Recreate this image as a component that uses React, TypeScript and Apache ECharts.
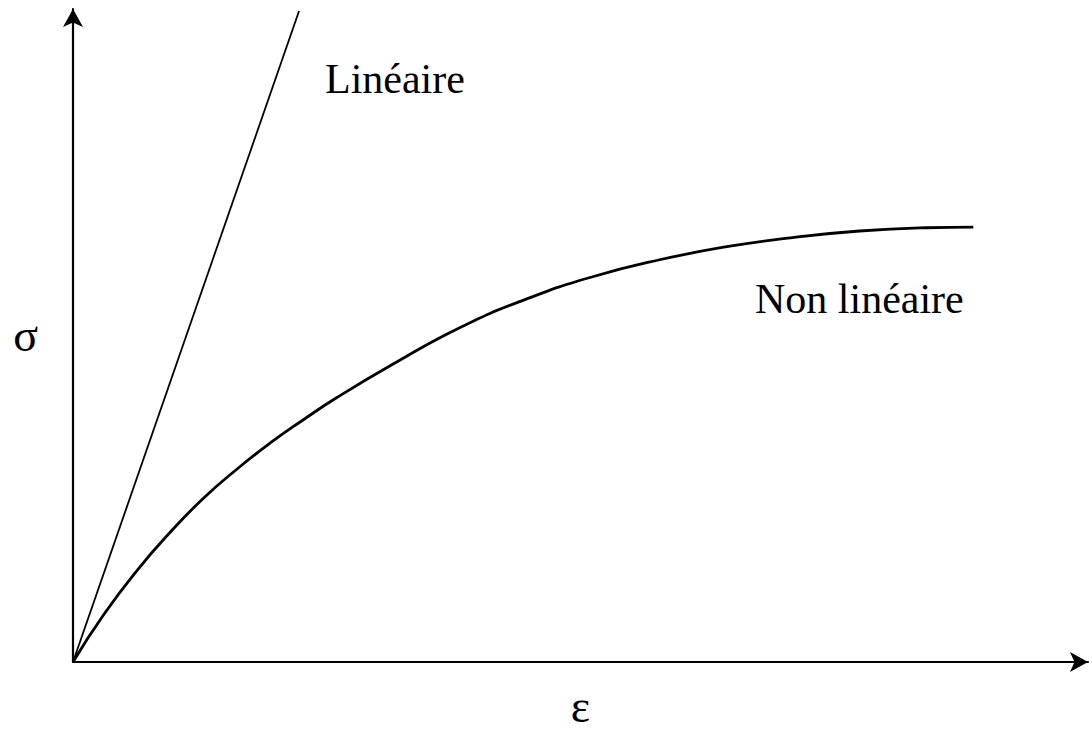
import React, { useEffect, useRef } from "react";
import * as echarts from "echarts";

// Strain (ε) and stress (σ) values, arbitrary units
const linearStrain = [0, 22.27];
const linearStress = [0, 99.7];

const nonLinearStrain = [
  0, 3, 6.3, 9.6, 12.8, 16.2, 19.4, 22.7, 26, 31.5, 38.1, 44.7, 51.2, 57.8,
  64.4, 70.9, 77.5, 84.1, 88.7,
];
const nonLinearStress = [
  0, 7.2, 14.0, 19.9, 25.0, 29.6, 33.5, 37.1, 40.5, 45.6, 51.2, 55.6, 59.0,
  61.6, 63.6, 65.0, 66.0, 66.5, 66.6,
];

const labelLinear = "Linéaire";
const labelNonLinear = "Non linéaire";
const xAxisName = "ε";
const yAxisName = "σ";

const SERIF = "'Liberation Serif', 'Times New Roman', serif";

export default function App() {
  const ref = useRef<HTMLDivElement>(null);

  useEffect(() => {
    if (!ref.current) return;
    const chart = echarts.init(ref.current, undefined, { renderer: "svg" });

    const linData = linearStrain.map((x, i) => [x, linearStress[i]]);
    const nlData = nonLinearStrain.map((x, i) => [x, nonLinearStress[i]]);

    chart.setOption({
      animation: false,
      backgroundColor: "#ffffff",
      grid: { left: 73, right: 4, top: 9, bottom: 67, containLabel: false },
      xAxis: {
        type: "value",
        min: 0,
        max: 100,
        name: xAxisName,
        nameLocation: "middle",
        nameGap: 21,
        nameTextStyle: { fontFamily: SERIF, fontSize: 46, color: "#000" },
        axisLine: {
          show: true,
          symbol: ["none", "arrow"],
          symbolSize: [15, 18],
          lineStyle: { color: "#000", width: 2.2 },
        },
        axisTick: { show: false },
        axisLabel: { show: false },
        splitLine: { show: false },
      },
      yAxis: {
        type: "value",
        min: 0,
        max: 100,
        name: yAxisName,
        nameLocation: "middle",
        nameRotate: 0,
        nameGap: 35,
        nameTextStyle: {
          fontFamily: SERIF,
          fontSize: 46,
          color: "#000",
          padding: [0, 0, 22, 0],
        },
        axisLine: {
          show: true,
          symbol: ["none", "arrow"],
          symbolSize: [15, 18],
          lineStyle: { color: "#000", width: 2.2 },
        },
        axisTick: { show: false },
        axisLabel: { show: false },
        splitLine: { show: false },
      },
      series: [
        {
          name: labelLinear,
          type: "line",
          data: linData,
          showSymbol: false,
          lineStyle: { color: "#000", width: 1.8 },
          z: 3,
        },
        {
          name: labelNonLinear,
          type: "line",
          data: nlData,
          smooth: 0.5,
          showSymbol: false,
          lineStyle: { color: "#000", width: 2.8 },
          z: 3,
        },
      ],
      graphic: [
        {
          type: "text",
          left: 325,
          top: 58,
          style: {
            text: labelLinear,
            font: `42px ${SERIF}`,
            fill: "#000",
          },
        },
        {
          type: "text",
          left: 755,
          top: 278,
          style: {
            text: labelNonLinear,
            font: `42px ${SERIF}`,
            fill: "#000",
          },
        },
      ],
    });

    return () => chart.dispose();
  }, []);

  return (
    <div
      ref={ref}
      style={{ position: "absolute", left: 0, top: 0, width: 1092, height: 734, background: "#fff" }}
    />
  );
}
